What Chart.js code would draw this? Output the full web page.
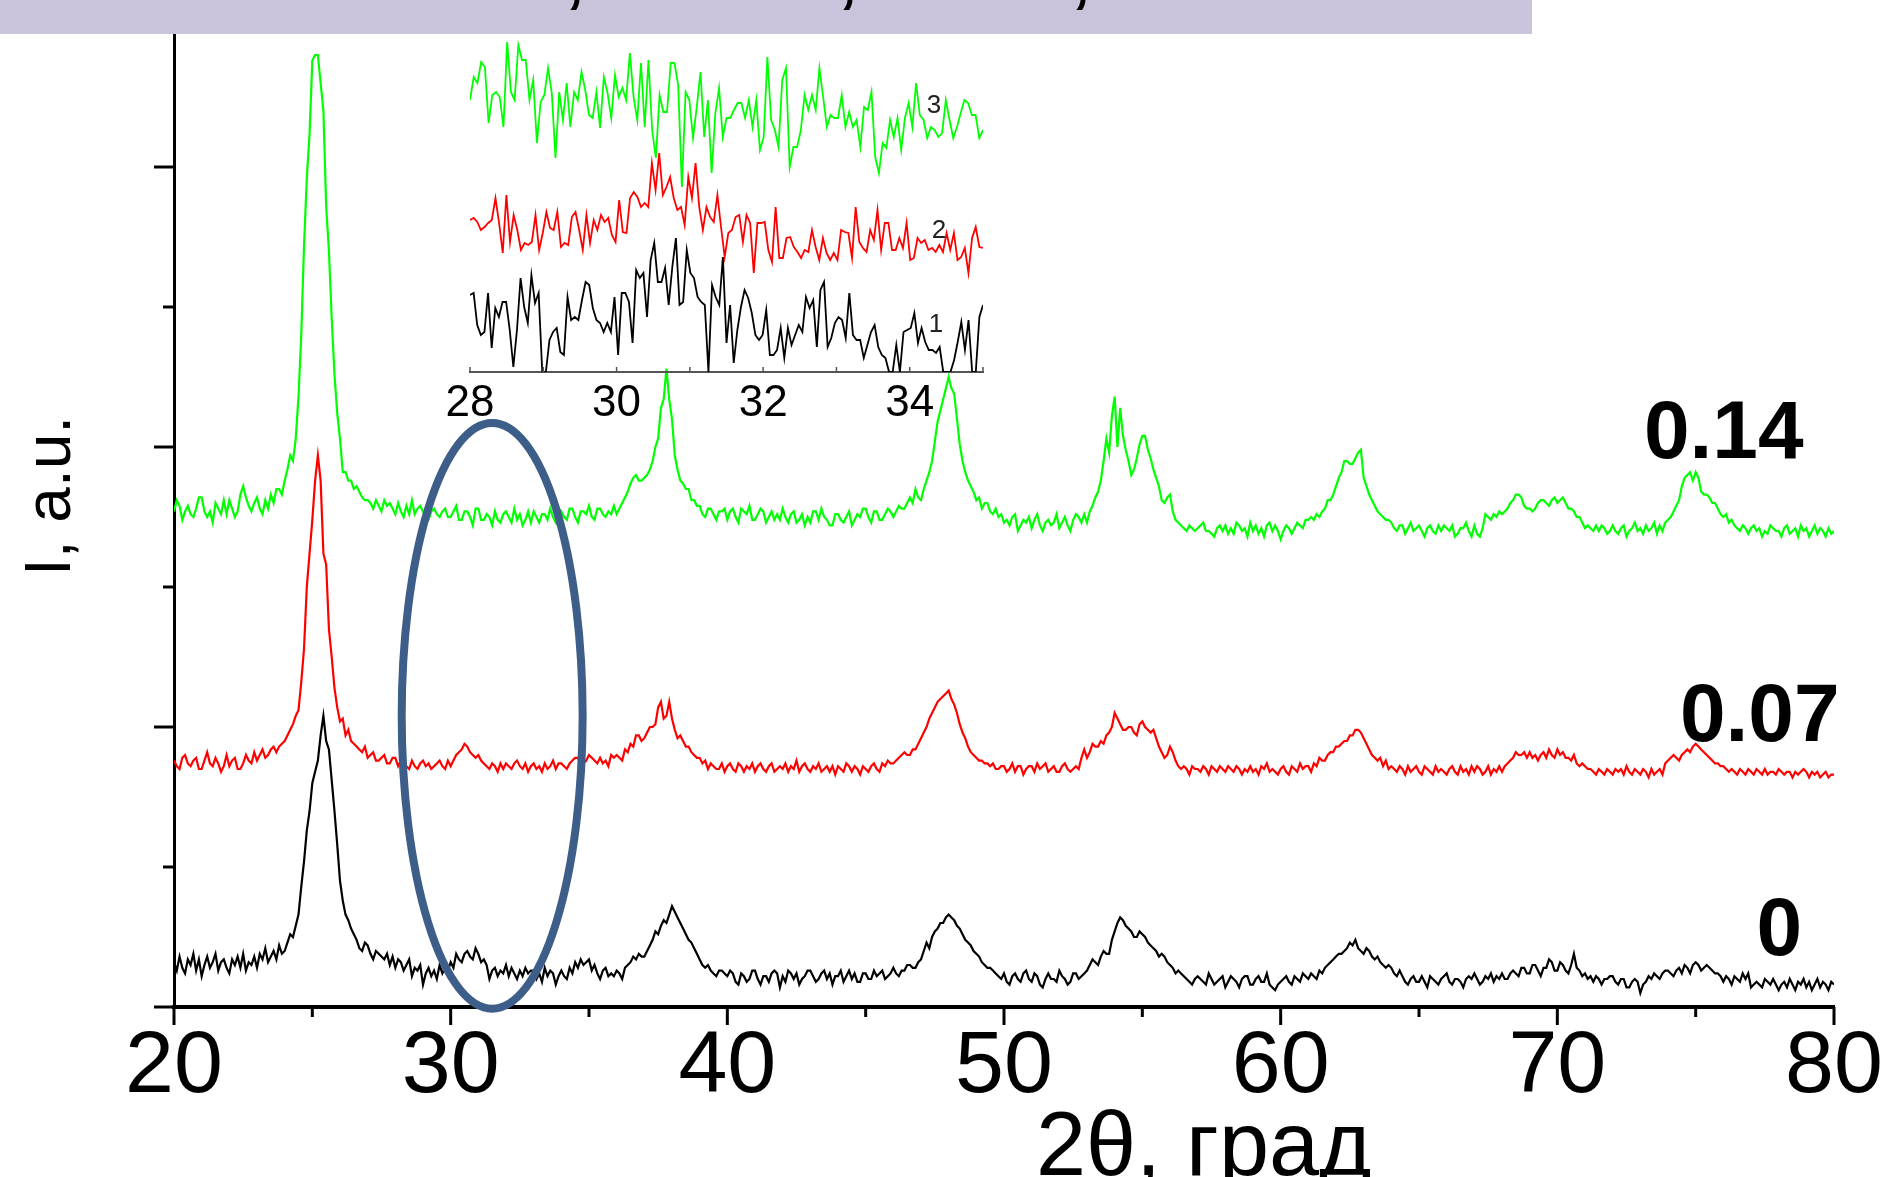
<!DOCTYPE html>
<html>
<head>
<meta charset="utf-8">
<title>XRD</title>
<script src="https://cdn.jsdelivr.net/npm/chart.js@4.4.1/dist/chart.umd.min.js"></script>
<style>
  html, body { margin: 0; padding: 0; background: #fff; }
  #wrap { position: relative; width: 1884px; height: 1177px; }
  #xrd { position: absolute; left: 0; top: 0; }
  #inset { position: absolute; left: 400px; top: 0; }
</style>
</head>
<body>
<div id="wrap">
  <canvas id="xrd" width="1884" height="1177"></canvas>
  <canvas id="inset" width="640" height="450"></canvas>
</div>
<script>
// 2theta scan, 20..80 deg, step 0.1 (one row = one degree)
const THETA_START = 20;
const THETA_STEP = 0.1;

const sample0 = [
  16,13,18,14,12,17,15,19,13,17,  11,15,18,14,16,19,13,16,17,14,
  12,17,15,18,14,19,13,16,15,18,  14,19,17,21,16,18,20,17,22,19,
  20,23,26,25,29,33,43,52,63,70,  80,84,88,97,104,95,92,81,70,58,
  45,38,33,31,28,26,24,21,20,23,  22,19,17,20,19,18,17,19,15,18,
  14,17,16,13,15,17,11,14,13,15,  8,12,14,11,13,10,15,12,14,13,
  16,14,19,17,16,19,20,18,17,21,  19,16,17,15,10,13,14,11,13,12,
  15,11,14,12,10,13,11,14,12,13,  13,10,12,9,14,11,13,12,8,11,
  13,11,10,14,12,16,14,17,15,16,  17,13,15,12,10,13,14,11,12,11,
  13,12,10,14,15,16,18,17,19,18,  18,20,22,24,27,26,29,31,30,33,
  36,34,32,30,28,26,24,23,21,19,  17,15,14,15,13,12,11,13,13,12,
  11,13,12,9,8,12,11,9,10,13,     13,10,8,11,11,9,12,13,12,7,
  11,9,13,12,10,12,8,10,11,13,    13,11,9,10,12,13,10,12,8,11,
  11,13,9,11,13,10,12,9,9,12,     12,10,10,13,11,12,13,10,11,12,
  14,12,11,13,13,15,15,14,14,16,  17,20,23,21,25,27,28,30,30,32,
  33,32,31,29,28,26,24,23,22,20,  19,18,16,15,14,14,13,12,11,10,
  12,9,8,11,12,10,9,12,13,10,     9,12,11,8,7,10,12,10,10,9,
  13,11,10,8,9,12,12,10,11,12,    13,15,17,16,15,18,20,19,19,24,
  27,30,32,31,29,28,27,25,25,27,  26,25,23,22,21,20,18,19,18,16,
  15,14,12,13,12,11,10,9,8,10,    11,10,9,8,12,10,8,9,10,11,
  7,9,11,10,9,7,10,11,11,8,       8,10,11,9,9,12,8,7,6,8,
  9,10,11,9,8,11,10,9,12,11,      10,12,11,10,13,12,14,15,16,17,
  18,19,19,20,21,23,22,24,21,20,  19,21,20,18,17,18,16,15,14,15,
  14,12,11,13,11,9,8,10,11,9,     9,11,9,7,11,10,9,8,10,11,
  12,9,8,10,10,9,7,10,11,10,      12,10,8,9,11,10,12,9,11,10,
  12,10,10,12,13,12,11,14,14,12,  12,15,15,13,11,14,14,17,16,13,
  13,16,15,13,12,15,19,14,13,11,  12,10,11,9,11,10,8,10,10,11,
  11,9,8,10,10,7,7,9,10,9,        5,8,9,11,10,12,11,10,12,13,
  13,12,11,13,14,12,15,14,12,15,  16,15,13,14,15,14,13,12,12,11,
  9,11,10,8,11,10,9,12,10,12,     7,8,9,8,7,10,9,8,10,8,
  6,8,9,7,10,8,6,9,8,10,          7,9,6,8,10,7,9,8,6,9,
  8
];

const sample007 = [
  88,86,85,89,90,87,86,88,89,85,  85,88,91,87,86,89,87,84,86,90,
  86,88,89,85,85,87,90,88,87,91,  88,90,92,89,90,92,93,91,93,94,
  95,97,99,101,104,106,116,128,150,162,  174,188,197,188,162,158,135,125,114,107,
  102,103,97,99,95,94,93,92,91,93,  89,90,91,88,88,89,90,87,87,89,
  89,86,88,87,86,85,88,86,85,87,  88,86,87,85,86,87,88,86,85,88,
  86,88,90,91,92,94,93,91,90,89,  90,88,87,86,85,87,86,84,87,85,
  87,86,85,87,88,86,85,87,84,86,  87,85,86,84,87,85,86,88,85,87,
  87,86,85,87,88,89,89,87,87,88,  90,89,88,87,89,87,88,86,90,89,
  90,89,88,92,91,94,93,97,97,95,  96,98,100,100,101,107,109,103,104,109,
  103,99,96,97,95,93,93,91,90,89,  89,87,88,85,87,86,85,85,87,84,
  86,87,85,84,87,86,84,86,85,87,  84,86,87,85,84,86,87,84,85,86,
  85,87,84,86,85,88,84,86,87,85,  84,86,85,87,84,85,86,84,86,83,
  86,85,84,87,86,84,86,85,83,86,  85,84,86,87,85,84,87,86,88,87,
  87,88,89,90,91,90,90,92,92,94,  96,98,100,103,105,107,109,110,111,112,
  113,110,108,105,101,98,96,93,91,90,  89,88,88,87,87,86,87,85,85,86,
  86,84,85,87,84,86,86,83,85,86,  86,84,87,85,86,87,84,85,86,84,
  84,86,87,85,84,85,86,85,89,92,  89,91,94,93,93,95,94,97,98,100,
  105,103,101,99,99,100,100,98,97,101,  102,100,99,98,99,96,93,91,89,90,
  93,91,88,86,85,86,85,83,86,85,  85,84,86,85,83,86,85,84,86,85,
  84,86,85,84,86,85,83,85,84,86,  84,85,83,86,85,87,84,85,84,83,
  85,86,84,83,86,85,84,87,85,86,  86,84,87,86,89,88,88,90,91,91,
  93,93,94,95,95,97,97,99,99,98,  96,94,92,90,89,88,89,86,88,85,
  86,85,84,86,85,83,86,84,85,86,  84,83,86,85,84,83,86,84,85,84,
  83,85,86,84,83,86,84,85,83,86,  84,86,85,83,84,86,83,85,84,86,
  84,86,87,88,89,91,90,90,91,89,  91,89,90,88,90,91,89,92,90,89,
  92,90,91,89,89,88,90,87,86,87,  86,85,85,84,83,85,84,83,85,84,
  83,85,84,85,83,86,84,83,85,84,  83,85,84,82,85,83,84,85,83,87,
  88,89,90,89,88,90,91,92,91,93,  94,93,92,91,90,89,88,87,87,86,
  86,85,84,85,84,83,85,84,83,85,  84,83,85,84,83,85,83,84,84,83,
  85,84,83,84,84,82,84,83,84,85,  84,82,84,83,84,82,83,84,82,83,
  83
];

const sample014 = [
  177,181,179,174,177,179,176,175,178,182,  182,177,175,177,173,180,178,176,181,176,
  181,178,175,177,183,186,182,179,177,180,  182,178,176,181,178,183,180,185,185,183,
  188,192,197,195,203,218,240,272,296,312,  338,340,340,330,320,286,270,246,226,212,
  203,191,191,188,188,185,186,184,182,181,  181,180,178,181,179,177,181,179,180,178,
  176,180,177,175,179,176,181,176,178,179,  177,175,174,177,178,176,175,177,178,175,
  175,177,179,174,174,177,177,175,172,178,  178,174,174,176,175,172,177,174,173,176,
  177,175,173,178,174,176,172,174,177,173,  177,175,173,176,176,174,178,175,173,178,
  177,175,174,178,178,175,173,177,177,176,  179,175,174,178,178,176,175,177,176,179,
  176,178,180,182,184,187,189,190,188,188,  189,190,192,195,200,203,214,217,228,217,
  210,197,192,188,187,185,185,181,181,179,  179,176,175,178,178,176,174,177,177,178,
  174,177,178,175,173,178,177,176,179,174,  174,176,178,177,173,175,177,174,176,174,
  178,175,173,176,177,173,174,176,172,175,  173,177,177,174,178,175,174,172,172,176,
  176,174,173,175,177,172,174,176,175,178,  178,175,173,177,177,174,174,176,178,177,
  175,177,179,178,178,180,182,180,185,182,  181,185,188,191,195,202,209,213,217,221,
  225,221,219,210,201,195,191,188,186,184,  181,182,178,180,180,177,176,178,175,176,
  173,174,172,175,176,170,172,174,173,175,  171,174,176,172,170,173,174,172,173,176,
  171,173,175,172,170,174,176,175,173,176,  173,177,179,182,184,188,195,203,198,211,
  218,200,214,204,199,195,190,192,196,201,  204,204,199,196,192,189,186,181,180,182,
  183,177,174,173,172,171,170,172,171,170,  171,172,173,170,170,169,168,171,172,170,
  172,169,171,169,173,172,170,171,168,173,  170,172,169,171,168,172,173,170,172,170,
  167,170,172,171,169,171,173,172,171,174,  174,175,174,176,175,177,178,181,181,183,
  186,189,191,195,195,194,194,196,198,199,  189,186,183,181,179,177,176,175,174,174,
  173,171,170,172,172,169,171,173,170,171,  172,170,168,171,172,170,169,172,170,172,
  171,170,172,168,169,171,171,173,170,168,  172,169,168,171,176,175,174,176,175,177,
  176,177,178,180,181,183,183,182,179,178,  178,177,178,180,181,181,180,179,181,182,
  180,181,182,180,178,178,177,175,175,173,  171,172,171,170,172,170,172,171,169,170,
  172,170,169,171,172,168,170,171,173,170,  171,169,172,170,171,173,169,172,170,173,
  174,175,177,179,181,186,189,190,191,188,  191,189,184,183,183,182,180,180,178,176,
  175,176,173,174,172,171,170,172,171,169,  171,172,170,171,168,170,169,172,171,170,
  170,168,171,172,169,170,171,168,172,170,  171,168,170,172,169,171,170,168,171,169,
  170
];

// zoomed scan 28..35 deg (inset), curves 1, 2, 3
const INSET_FROM = 28;
const INSET_TO = 35;

const inset1 = [
  77,79,47,37,40,79,24,64,55,70, 70,42,5,42,94,65,49,97,69,79,
  0,0,32,40,44,20,17,75,52,55, 52,72,90,87,64,52,49,40,49,40,
  75,17,79,79,70,29,102,94,99,55, 112,129,90,90,104,67,105,134,67,70,
  122,99,94,75,70,67,0,87,75,67, 115,29,67,9,42,65,82,74,59,37,
  32,37,62,17,17,22,44,14,44,27, 37,47,40,75,64,72,25,82,90,25,
  34,49,55,52,34,79,37,32,32,14, 27,40,47,25,17,14,0,0,27,0,
  40,42,44,59,29,44,30,22,22,19, 25,0,0,0,12,30,50,22,52,0,
  0,55,67
];

const inset2 = [
  152,154,150,142,145,149,152,174,149,119, 177,130,157,142,122,129,127,130,157,122,
  139,160,144,142,160,125,129,127,155,160, 142,122,157,129,152,142,157,150,154,137,
  130,172,140,139,174,180,175,165,169,165, 209,182,219,177,185,195,174,162,165,147,
  195,174,209,165,142,165,155,150,177,145, 115,139,142,155,157,130,157,149,99,149,
  149,150,122,110,165,114,114,134,135,125, 120,114,122,120,142,125,112,134,119,112,
  119,112,142,140,139,114,165,130,124,120, 142,132,162,122,149,149,122,122,134,124,
  149,112,114,134,129,132,122,124,120,127, 120,139,122,139,112,115,124,99,134,145,
  125,124
];

const inset3 = [
  272,295,289,310,305,249,277,280,275,245, 330,280,272,327,312,312,272,292,229,270,
  277,304,279,214,280,252,289,245,280,272, 300,282,257,254,280,244,295,279,254,297,
  275,284,272,319,275,252,309,245,312,242, 214,277,260,260,309,309,287,185,280,272,
  234,265,300,235,272,199,259,284,235,254, 254,262,269,269,254,272,245,272,222,235,
  315,252,242,225,292,304,205,225,225,242, 277,262,277,262,304,275,245,257,254,254,
  277,245,260,245,252,225,265,262,280,215, 199,229,224,252,235,254,222,254,269,245,
  289,257,252,234,245,242,235,239,272,252, 234,245,259,272,269,257,257,234,242
];

const seriesLabels = [
  { text: '0.14', x: 78.9, y: 196 },
  { text: '0.07', x: 80.2, y: 95 },
  { text: '0', x: 78.85, y: 18.6 }
];
const insetLabels = [
  { text: '3', x: 34.33, y: 259 },
  { text: '2', x: 34.40, y: 134 },
  { text: '1', x: 34.36, y: 40 }
];
// region marked on the main plot (deg / intensity units)
const marked = { theta: 31.5, dTheta: 3.27, level: 104, dLevel: 104.6 };

const FONT = '"Liberation Sans", Arial, sans-serif';

function scan(values, color) {
  return {
    data: values.map((v, i) => ({ x: THETA_START + i * THETA_STEP, y: v })),
    borderColor: color,
    borderWidth: 2.2,
    pointRadius: 0,
    tension: 0
  };
}

function zoomScan(values, color) {
  const step = (INSET_TO - INSET_FROM) / (values.length - 1);
  return {
    data: values.map((v, i) => ({ x: INSET_FROM + i * step, y: v })),
    borderColor: color,
    borderWidth: 1.8,
    pointRadius: 0,
    tension: 0
  };
}

const decorations = {
  id: 'decorations',
  afterDatasetsDraw(chart) {
    const { ctx, scales: { x, y } } = chart;
    const cx = x.getPixelForValue(marked.theta);
    const rx = x.getPixelForValue(marked.theta + marked.dTheta) - cx;
    const cy = y.getPixelForValue(marked.level);
    const ry = cy - y.getPixelForValue(marked.level + marked.dLevel);
    ctx.save();
    ctx.strokeStyle = '#3e5e8a';
    ctx.lineWidth = 8;
    ctx.beginPath();
    ctx.ellipse(cx, cy, rx, ry, 0, 0, Math.PI * 2);
    ctx.stroke();
    ctx.restore();
  },
  afterDraw(chart) {
    const { ctx, scales: { x, y }, chartArea: a } = chart;
    ctx.save();
    // tick marks, long on labelled values
    ctx.strokeStyle = '#000';
    ctx.lineWidth = 3;
    x.ticks.forEach(t => {
      const px = x.getPixelForValue(t.value);
      const len = t.value % 10 === 0 ? 18 : 10;
      ctx.beginPath();
      ctx.moveTo(px, a.bottom);
      ctx.lineTo(px, a.bottom + len);
      ctx.stroke();
    });
    y.ticks.forEach(t => {
      const py = y.getPixelForValue(t.value);
      const len = t.value % 100 === 0 ? 20 : 11;
      ctx.beginPath();
      ctx.moveTo(a.left - len, py);
      ctx.lineTo(a.left, py);
      ctx.stroke();
    });

    // sample labels
    ctx.fillStyle = '#000';
    ctx.font = 'bold 82px ' + FONT;
    ctx.textAlign = 'right';
    ctx.textBaseline = 'alphabetic';
    seriesLabels.forEach(l => {
      ctx.fillText(l.text, x.getPixelForValue(l.x), y.getPixelForValue(l.y));
    });

    // axis titles
    ctx.font = '90px ' + FONT;
    ctx.textAlign = 'left';
    ctx.fillText('2θ, град', 1036, 1175);
    ctx.save();
    ctx.translate(70, 496);
    ctx.rotate(-Math.PI / 2);
    ctx.textAlign = 'center';
    ctx.font = '64px ' + FONT;
    ctx.fillText('I, a.u.', 0, 0);
    ctx.restore();

    // header band
    ctx.fillStyle = '#cbc3dc';
    ctx.fillRect(0, 0, 1532, 34);
    ctx.fillStyle = '#000';
    ctx.font = 'bold 64px ' + FONT;
    ctx.textAlign = 'center';
    [575, 848, 1081].forEach(px => ctx.fillText(',', px, 0));
    ctx.restore();
  }
};

new Chart(document.getElementById('xrd'), {
  type: 'line',
  data: {
    datasets: [
      scan(sample0, '#000000'),
      scan(sample007, '#ff0000'),
      scan(sample014, '#00ff00')
    ]
  },
  options: {
    responsive: false,
    animation: false,
    events: [],
    layout: { padding: { top: 27, right: 50, left: 0, bottom: 0 } },
    plugins: { legend: { display: false }, tooltip: { enabled: false } },
    scales: {
      x: {
        type: 'linear',
        min: 20,
        max: 80,
        afterFit: s => { s.height = 170; s.paddingLeft = 0; s.paddingRight = 0; },
        border: { display: true, color: '#000', width: 4 },
        grid: { display: false, drawTicks: false },
        ticks: {
          stepSize: 5,
          autoSkip: false,
          maxRotation: 0,
          padding: 8,
          color: '#000',
          font: { family: FONT, size: 88 },
          callback: v => (v % 10 === 0 ? v : '')
        }
      },
      y: {
        min: 0,
        max: 350,
        afterFit: s => { s.width = 174; },
        border: { display: true, color: '#000', width: 3 },
        grid: { display: false, drawTicks: false },
        ticks: { stepSize: 50, callback: () => '' }
      }
    }
  },
  plugins: [decorations]
});

const insetMarks = {
  id: 'insetMarks',
  afterDraw(chart) {
    const { ctx, scales: { x, y }, chartArea: a } = chart;
    ctx.save();
    ctx.strokeStyle = '#555';
    ctx.lineWidth = 1.5;
    x.ticks.forEach(t => {
      const px = x.getPixelForValue(t.value);
      ctx.beginPath();
      ctx.moveTo(px, a.bottom);
      ctx.lineTo(px, a.bottom - 5);
      ctx.stroke();
    });
    ctx.fillStyle = '#222';
    ctx.font = '26px ' + FONT;
    ctx.textAlign = 'center';
    insetLabels.forEach(l => {
      ctx.fillText(l.text, x.getPixelForValue(l.x), y.getPixelForValue(l.y));
    });
    ctx.restore();
  }
};

new Chart(document.getElementById('inset'), {
  type: 'line',
  data: {
    datasets: [
      zoomScan(inset1, '#000000'),
      zoomScan(inset2, '#ff0000'),
      zoomScan(inset3, '#00ff00')
    ]
  },
  options: {
    responsive: false,
    animation: false,
    events: [],
    layout: { padding: { left: 70, right: 57, top: 32, bottom: 0 } },
    plugins: { legend: { display: false }, tooltip: { enabled: false } },
    scales: {
      x: {
        type: 'linear',
        min: INSET_FROM,
        max: INSET_TO,
        afterFit: s => { s.height = 78; },
        border: { display: true, color: '#555', width: 2 },
        grid: { display: false, drawTicks: false },
        ticks: {
          stepSize: 1,
          autoSkip: false,
          maxRotation: 0,
          padding: 5,
          color: '#000',
          font: { family: FONT, size: 44 },
          callback: v => (v % 2 === 0 ? v : '')
        }
      },
      y: { display: false, min: 0, max: 340 }
    }
  },
  plugins: [insetMarks]
});
</script>
</body>
</html>
